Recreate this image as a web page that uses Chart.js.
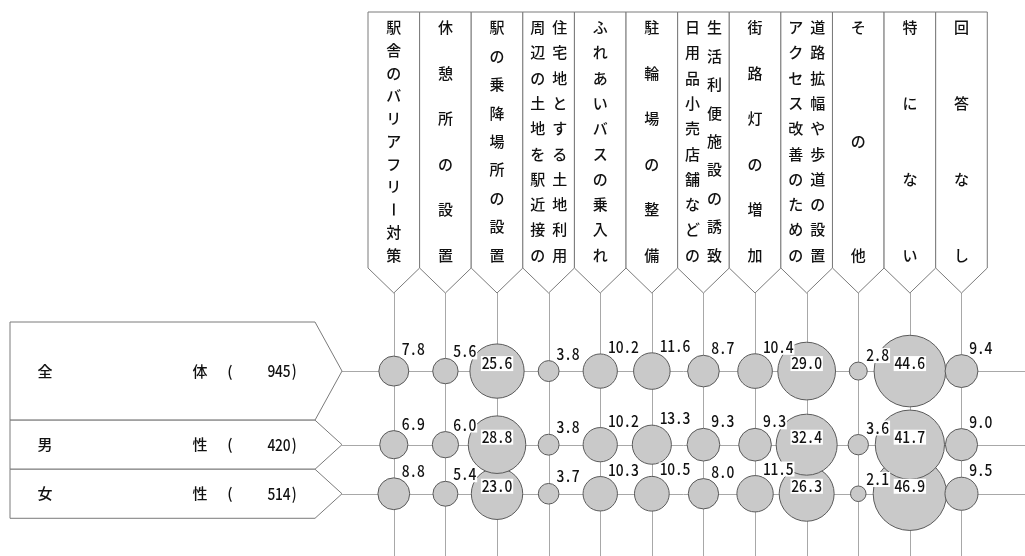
<!DOCTYPE html>
<html>
<head>
<meta charset="utf-8">
<script src="https://cdn.jsdelivr.net/npm/chart.js@4"></script>
<style>
  html, body { margin: 0; padding: 0; background: #ffffff; }
  #wrap { width: 1025px; height: 556px; position: relative; }
</style>
</head>
<body>
<div id="wrap"><canvas id="c" width="1025" height="556"></canvas></div>
<script>
// ---- Data ----
// Multi-column header labels: right column first, separated by '/'
const categories = [
  '駅舎のバリアフリー対策',
  '休憩所の設置',
  '駅の乗降場所の設置',
  '住宅地とする土地利用/周辺の土地を駅近接の',
  'ふれあいバスの乗入れ',
  '駐輪場の整備',
  '生活利便施設の誘致/日用品小売店舗などの',
  '街路灯の増加',
  '道路拡幅や歩道の設置/アクセス改善のための',
  'その他',
  '特にない',
  '回答なし'
];
const rowLabels = ['全体', '男性', '女性'];
const rowCounts = [945, 420, 514];
const totalValues  = [7.8, 5.6, 25.6, 3.8, 10.2, 11.6, 8.7, 10.4, 29.0, 2.8, 44.6, 9.4];
const maleValues   = [6.9, 6.0, 28.8, 3.8, 10.2, 13.3, 9.3, 9.3, 32.4, 3.6, 41.7, 9.0];
const femaleValues = [8.8, 5.4, 23.0, 3.7, 10.3, 10.5, 8.0, 11.5, 26.3, 2.1, 46.9, 9.5];
const seriesValues = [totalValues, maleValues, femaleValues];

// ---- Layout / style ----
const rowSpan = [2, 1, 1];          // relative band heights of the rows
const RADIUS_K = 5.36;             // px per sqrt(percent)
const FONT = '"Noto Sans CJK JP", "Noto Sans", sans-serif';
const TEXT_FONT = '500 15px ' + FONT;
const NUM_FONT = '500 16px ' + FONT;
const CELL = 7.6;                  // half-width character cell for numbers
const HEADER_TOP = 12, HEADER_SIDE = 268, HEADER_TIP = 293;
const TEXT_TOP = 27.5, TEXT_BOTTOM = 255;
const LEFT_X = 10, LEFT_RIGHT = 315, LEFT_TIP = 342;

const bandStarts = [];
let acc = 0;
rowSpan.forEach(s => { bandStarts.push(acc); acc += s; });
const rowCenters = rowSpan.map((s, i) => bandStarts[i] + s / 2);
const totalSpan = acc;

const datasets = seriesValues.map((vals, ri) => ({
  label: rowLabels[ri],
  data: vals.map((v, ci) => ({ x: ci, y: rowCenters[ri], r: RADIUS_K * Math.sqrt(v), v: v })),
  backgroundColor: '#c9c9c9',
  borderColor: '#5a5a5a',
  borderWidth: 1,
  clip: false
}));

function drawVertical(ctx, text, x, yTop, yBottom) {
  const chars = Array.from(text);
  const n = chars.length;
  chars.forEach((ch, k) => {
    const y = n > 1 ? yTop + k * (yBottom - yTop) / (n - 1) : (yTop + yBottom) / 2;
    if (ch === 'ー') {
      ctx.save();
      ctx.translate(x, y);
      ctx.rotate(Math.PI / 2);
      ctx.fillText(ch, 0, 0);
      ctx.restore();
    } else {
      ctx.fillText(ch, x, y);
    }
  });
}

// monospaced half-width digits, narrow glyphs
function drawNum(ctx, txt, x, base) {
  ctx.save();
  ctx.textAlign = 'center';
  Array.from(txt).forEach((ch, k) => {
    ctx.save();
    ctx.translate(x + (k + 0.5) * CELL, base);
    ctx.scale(0.86, 1);
    ctx.fillText(ch, 0, 0);
    ctx.restore();
  });
  ctx.restore();
}
function numWidth(txt) { return Array.from(txt).length * CELL; }

const framePlugin = {
  id: 'frame',
  beforeDatasetsDraw(chart) {
    const ctx = chart.ctx;
    const xs = chart.scales.x, ys = chart.scales.y;
    const W = chart.width, H = chart.height;
    ctx.save();
    // grid lines
    ctx.strokeStyle = '#a8a8a8';
    ctx.lineWidth = 1;
    categories.forEach((c, i) => {
      const x = Math.round(xs.getPixelForValue(i)) + 0.5;
      ctx.beginPath(); ctx.moveTo(x, HEADER_TIP); ctx.lineTo(x, H); ctx.stroke();
    });
    rowCenters.forEach(v => {
      const y = Math.round(ys.getPixelForValue(v)) + 0.5;
      ctx.beginPath(); ctx.moveTo(LEFT_TIP, y); ctx.lineTo(W, y); ctx.stroke();
    });

    // header boxes
    ctx.strokeStyle = '#7a7a7a';
    ctx.fillStyle = '#ffffff';
    categories.forEach((c, i) => {
      const xc = xs.getPixelForValue(i);
      const xl = xs.getPixelForValue(i - 0.5), xr = xs.getPixelForValue(i + 0.5);
      ctx.beginPath();
      ctx.moveTo(xl, HEADER_TOP); ctx.lineTo(xr, HEADER_TOP);
      ctx.lineTo(xr, HEADER_SIDE); ctx.lineTo(xc, HEADER_TIP);
      ctx.lineTo(xl, HEADER_SIDE); ctx.closePath();
      ctx.fill(); ctx.stroke();
    });
    ctx.fillStyle = '#111111';
    ctx.font = TEXT_FONT;
    ctx.textAlign = 'center';
    ctx.textBaseline = 'middle';
    categories.forEach((c, i) => {
      const xc = xs.getPixelForValue(i);
      const cols = c.split('/');
      if (cols.length === 1) {
        drawVertical(ctx, cols[0], xc, TEXT_TOP, TEXT_BOTTOM);
      } else {
        drawVertical(ctx, cols[0], xc + 11, TEXT_TOP, TEXT_BOTTOM);
        drawVertical(ctx, cols[1], xc - 11, TEXT_TOP, TEXT_BOTTOM);
      }
    });

    // left row boxes
    ctx.strokeStyle = '#7a7a7a';
    rowLabels.forEach((lab, ri) => {
      const top = ys.getPixelForValue(bandStarts[ri]);
      const bot = ys.getPixelForValue(bandStarts[ri] + rowSpan[ri]);
      const mid = ys.getPixelForValue(rowCenters[ri]);
      ctx.beginPath();
      ctx.moveTo(LEFT_X, top); ctx.lineTo(LEFT_RIGHT, top);
      ctx.lineTo(LEFT_TIP, mid); ctx.lineTo(LEFT_RIGHT, bot);
      ctx.lineTo(LEFT_X, bot); ctx.closePath();
      ctx.fillStyle = '#ffffff';
      ctx.fill(); ctx.stroke();
      ctx.fillStyle = '#111111';
      ctx.font = TEXT_FONT;
      const chars = Array.from(lab);
      ctx.textAlign = 'center';
      ctx.textBaseline = 'middle';
      ctx.fillText(chars[0], 45, mid);
      ctx.fillText(chars[1], 200, mid);
      ctx.fillText('(', 230, mid);
      ctx.font = NUM_FONT;
      ctx.textBaseline = 'alphabetic';
      const t = rowCounts[ri] + ')';
      drawNum(ctx, t, 298 - numWidth(t), mid + 6);
    });
    ctx.restore();
  },
  afterDatasetsDraw(chart) {
    const ctx = chart.ctx;
    ctx.save();
    ctx.font = NUM_FONT;
    ctx.textBaseline = 'alphabetic';
    chart.data.datasets.forEach((ds, di) => {
      const meta = chart.getDatasetMeta(di);
      meta.data.forEach((pt, i) => {
        const d = ds.data[i];
        const txt = d.v.toFixed(1);
        const w = numWidth(txt);
        const cx = pt.x, cy = pt.y, r = d.r;
        let x0, base;
        if (d.v >= 20) {
          x0 = cx - w / 2;
          base = cy - 2;
        } else {
          x0 = cx + 8;
          base = cy - r - 1;
        }
        ctx.fillStyle = '#ffffff';
        ctx.fillRect(x0 - 1, base - 13, w + 2, 15);
        ctx.fillStyle = '#111111';
        drawNum(ctx, txt, x0, base);
      });
    });
    ctx.restore();
  }
};

const COL_W = 53.45;
const chartLeft = 368;
const chartRight = chartLeft + COL_W * categories.length;

new Chart(document.getElementById('c'), {
  type: 'bubble',
  data: { datasets },
  options: {
    responsive: false,
    animation: false,
    events: [],
    layout: { padding: { left: chartLeft, right: 1025 - chartRight, top: 322, bottom: 21 } },
    scales: {
      x: { type: 'linear', min: -0.5, max: categories.length - 0.5, display: false },
      y: { type: 'linear', min: 0, max: totalSpan, reverse: true, display: false }
    },
    plugins: { legend: { display: false }, tooltip: { enabled: false } }
  },
  plugins: [framePlugin]
});
</script>
</body>
</html>
